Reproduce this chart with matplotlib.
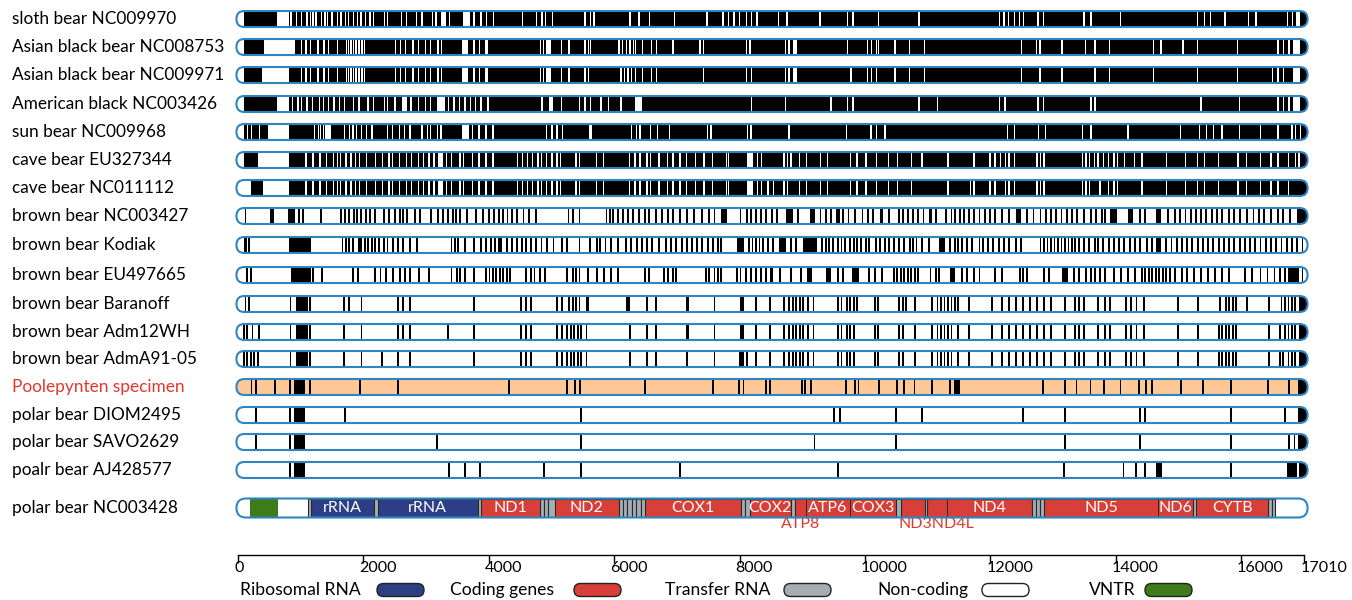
import matplotlib.pyplot as plt
from matplotlib.patches import FancyBboxPatch

SEQ_LEN = 17010

# ---- sequence rows (variable sites, bp) ----
row_names = ["sloth bear NC009970", "Asian black bear NC008753", "Asian black bear NC009971",
             "American black NC003426", "sun bear NC009968", "cave bear EU327344",
             "cave bear NC011112", "brown bear NC003427", "brown bear Kodiak",
             "brown bear EU497665", "brown bear Baranoff", "brown bear Adm12WH",
             "brown bear AdmA91-05", "Poolepynten specimen", "polar bear DIOM2495",
             "polar bear SAVO2629", "poalr bear AJ428577"]

# dark rows: white = sites shared with the reference
sloth_white = [844, 930, 1016, 1102, 1159, 1199, 1245, 1331, 1388, 1428, 1502, 1588, 1645, 1714, 1760,
               1845, 1903, 1960, 2034, 2103, 2160, 2332, 2389, 2606, 2686, 2846, 2932, 3104, 3161, 3373,
               3762, 3876, 3962, 4076, 4534, 4763, 4848, 4906, 5020, 5535, 5621, 5678, 6250, 6393, 6564,
               6965, 7480, 7737, 7823, 7909, 7994, 8109, 8195, 8280, 8624, 8757, 9283, 9721, 9809, 10218,
               10861, 12147, 12217, 12293, 12381, 12468, 12527, 12761, 12848, 13491, 13608, 14076, 15303,
               15420, 15508, 15742, 16122, 16239, 16735, 16823]
sloth_white_blocks = [(-30, 100), (616, 816), (3235, 3315), (3590, 3693), (16870, 16940)]

asian1_white = [1016, 1085, 1159, 1273, 1371, 1445, 1588, 1731, 1760, 1805, 1845, 1885, 1931, 1977, 2017,
                2515, 2589, 2675, 2789, 2875, 2989, 3075, 3190, 3247, 3762, 3847, 4820, 4877, 5163, 5278,
                5535, 5592, 5621, 6078, 6135, 6193, 6250, 6307, 6336, 6450, 6593, 6679, 6937, 7366, 7423,
                8109, 8166, 8728, 8786, 9721, 10043, 10101, 10189, 10218, 10481, 10715, 10949, 12498,
                12732, 12790, 13141, 13521, 13667, 13901, 14602, 14719, 15070, 15303, 15946, 16589,
                16677, 16765]
asian1_white_blocks = [(-30, 100), (415, 902), (3579, 3676), (3933, 3990), (4917, 4991), (8845, 8921),
                       (16823, 16940)]

asian2_white = [1016, 1085, 1159, 1273, 1371, 1445, 1588, 1731, 1760, 1805, 1845, 1885, 1931, 1977, 2017,
                2515, 2589, 2675, 2789, 2875, 2989, 3075, 3190, 3247, 3762, 3847, 4820, 4877, 5163, 5278,
                5535, 5592, 6107, 6164, 6221, 6278, 6336, 6450, 6593, 6679, 7423, 8109, 8195, 8728, 8786,
                9780, 10043, 10101, 10189, 10481, 10715, 10949, 12498, 12790, 13141, 13667, 13901, 14602,
                15303, 15946, 16501, 16589, 16677]
asian2_white_blocks = [(-30, 100), (387, 816), (3579, 3676), (3933, 3990), (4917, 4991), (8845, 8921),
                       (16823, 16940)]

american_white = [873, 959, 1016, 1102, 1188, 1302, 1359, 1445, 1531, 1617, 1702, 1845, 1931, 2074, 2160,
                  2332, 2389, 2503, 2761, 2875, 2989, 3075, 3361, 3447, 3533, 3619, 3704, 3790, 3876, 3990,
                  4848, 5163, 5449, 5535, 5621, 5792, 5907, 6107, 8195, 8728, 9458, 9721, 9809, 10861,
                  11153, 12147, 12235, 12761, 12848, 13608, 13667, 15362, 15976, 16589, 16677, 16765]
american_white_blocks = [(-30, 100), (616, 816), (2618, 2703), (3178, 3304), (4963, 5020), (6336, 6450),
                         (16823, 16940)]

sun_white = [148, 214, 341, 1224, 1280, 1318, 1362, 1694, 1776, 1832, 1887, 1970, 2052, 2135, 2384, 2466,
             2577, 2660, 2742, 2936, 3018, 3074, 3184, 3239, 3736, 3846, 3957, 4067, 4923, 5006, 5088,
             5171, 5613, 5640, 6275, 6358, 6413, 6579, 6689, 6882, 7490, 7545, 8124, 8180, 8790, 9709,
             10099, 10182, 10322, 12271, 12383, 12772, 12884, 13469, 13608, 14193, 15028, 15335, 15446,
             15557, 15697, 15975, 16309, 16588, 16811, 16866, 16950]
sun_white_blocks = [(-30, 90), (479, 810), (1390, 1484), (3570, 3681)]

caveEU_white = [1086, 1197, 1307, 1407, 1528, 1583, 1638, 1721, 1804, 1870, 1942, 2052, 2190, 2301, 2411,
                2466, 2577, 2687, 2770, 2880, 2963, 3046, 3129, 3322, 3405, 3543, 3598, 3736, 3846, 3957,
                4067, 4454, 4536, 4619, 4702, 4785, 4840, 4923, 5006, 5088, 5144, 5392, 5447, 5723, 5834,
                6248, 6330, 6413, 6524, 6579, 6717, 6855, 6938, 7048, 7158, 7296, 7434, 7572, 7793, 7821,
                8290, 8345, 8706, 8762, 8818, 8957, 9068, 9291, 9403, 9765, 9876, 10015, 10182, 10377,
                10517, 10739, 10907, 11324, 11742, 11993, 12076, 12160, 12243, 12299, 12383, 12745, 12800,
                12856, 13469, 13524, 13580, 13664, 13719, 13803, 13886, 13970, 14026, 14137, 14304, 14416,
                14806, 15112, 15307, 15418, 15641, 15947, 16087, 16309, 16477, 16588, 16755, 16866, 16922]
caveEU_white_blocks = [(-30, 90), (314, 810), (3184, 3267), (8124, 8207)]

caveNC_white = [1086, 1197, 1307, 1407, 1528, 1583, 1638, 1721, 1804, 1870, 1942, 2052, 2190, 2301, 2411,
                2466, 2577, 2687, 2770, 2880, 2963, 3046, 3129, 3322, 3405, 3543, 3598, 3736, 3846, 3957,
                4067, 4454, 4536, 4619, 4702, 4785, 4840, 4923, 5006, 5088, 5144, 5392, 5447, 5723, 5834,
                6248, 6330, 6413, 6524, 6579, 6717, 6855, 6938, 7048, 7158, 7296, 7434, 7572, 7793, 7821,
                8290, 8345, 8456, 8539, 8706, 8762, 8957, 9068, 9291, 9403, 9765, 9876, 10015, 10182,
                10377, 10517, 10739, 11324, 11687, 11742, 11993, 12076, 12243, 12299, 12383, 12745, 12800,
                12856, 13469, 13524, 13580, 13747, 13886, 13970, 14026, 14416, 14806, 15112, 15307, 15418,
                15641, 15947, 16087, 16309, 16477, 16588, 16755]
caveNC_white_blocks = [(-30, 200), (396, 810), (3184, 3267), (8124, 8207)]

# light rows: black = sites differing from the reference
brownNC_black = [120, 976, 1042, 1318, 1649, 1705, 1776, 1848, 1903, 1959, 2036, 2108, 2190, 2328, 2411,
                 2511, 2577, 2632, 2698, 2825, 2897, 3085, 3184, 3267, 3350, 3432, 3471, 3543, 3653, 3802,
                 3902, 4001, 4078, 4167, 4233, 4299, 4371, 4454, 4553, 4647, 4757, 5271, 5348, 5447, 5878,
                 5933, 5988, 6054, 6137, 6220, 6303, 6397, 6485, 6562, 6662, 6761, 6855, 6938, 7048, 7158,
                 7269, 7407, 7517, 7600, 8014, 8124, 8180, 8262, 8345, 8428, 8511, 8595, 8929, 9291, 9375,
                 9458, 9653, 9737, 9848, 9960, 10043, 10127, 10377, 10544, 10600, 10684, 10767, 10851,
                 10934, 11129, 11296, 11380, 11436, 11519, 11575, 11658, 11742, 11826, 11909, 11993,
                 12076, 12188, 12299, 12578, 12689, 12800, 12884, 12967, 13051, 13135, 13218, 13302,
                 13385, 13497, 13608, 13692, 13775, 13831, 14388, 14471, 14833, 14945, 15028, 15112,
                 15195, 15279, 15363, 15446, 15530, 15613, 15697, 15808, 15892, 15975, 16087, 16198,
                 16282, 16365, 16477, 16588, 16672, 16783]
brownNC_black_blocks = [(507, 579), (799, 910), (7710, 7793), (8734, 8846), (9124, 9208), (9542, 9598),
                        (10238, 10294), (11018, 11074), (12410, 12494), (13914, 14026), (14193, 14276),
                        (14638, 14722), (16894, 17080)]

kodiak_black = [176, 1666, 1721, 1776, 1832, 2025, 2080, 2135, 2190, 2246, 2328, 2384, 2466, 2549, 2632,
                2742, 2853, 3405, 3460, 3515, 3626, 3764, 3874, 3957, 4040, 4095, 4288, 4371, 4454, 4536,
                4592, 4674, 4757, 4840, 4923, 5033, 5171, 5254, 5447, 5613, 5723, 5778, 5861, 5944, 6054,
                6192, 6275, 6358, 6441, 6524, 6606, 6717, 6827, 6910, 6993, 7076, 7158, 7241, 7324, 7407,
                7490, 7572, 7655, 7710, 8152, 8207, 8262, 8318, 8373, 8456, 8539, 8818, 8901, 9319, 9375,
                9430, 9486, 9570, 9625, 9681, 9765, 9820, 9876, 9932, 10015, 10071, 10182, 10238, 10322,
                10377, 10461, 10544, 10628, 10712, 10767, 10823, 10907, 11018, 11352, 11436, 11491, 11547,
                11631, 11714, 11826, 11881, 11965, 12048, 12132, 12215, 12299, 12410, 12494, 12800, 12856,
                12912, 12967, 13023, 13079, 13135, 13190, 13246, 13302, 13357, 13413, 13497, 13580, 13664,
                13719, 13803, 13886, 13970, 14054, 14137, 14221, 14304, 14388, 14499, 14583, 14806, 14889,
                14973, 15056, 15140, 15223, 15307, 15390, 15474, 15557, 15641, 15725, 15808, 15892, 15975,
                16059, 16142, 16226, 16309, 16393, 16477, 16560, 16644, 16727, 16811, 16894, 16978]
kodiak_black_blocks = [(93, 148), (810, 1169), (1914, 1970), (4150, 4205), (7959, 8069), (8623, 8734),
                       (9013, 9236), (11185, 11269), (14638, 14722)]

eu497_black = [148, 203, 1197, 1335, 1832, 1914, 2190, 2273, 2356, 2466, 2577, 2660, 2742, 2880, 3046,
               3405, 3488, 3543, 3626, 3764, 3957, 4012, 4067, 4122, 4178, 4233, 4288, 4343, 4592, 4674,
               4730, 4812, 4895, 5254, 5337, 5392, 5447, 5585, 5723, 5834, 5944, 6054, 6496, 6551, 6800,
               6855, 6938, 6993, 7462, 7517, 7600, 7655, 7710, 7959, 8014, 8097, 8180, 8262, 8345, 8428,
               8651, 8818, 8985, 9570, 9653, 10071, 10155, 10266, 10461, 10517, 10572, 10628, 10684,
               10739, 10795, 10851, 11046, 11129, 11185, 11547, 11631, 11742, 11826, 12076, 12188, 12466,
               12522, 12578, 12856, 12940, 13330, 13413, 13524, 13608, 13664, 13747, 13831, 13970, 14081,
               14193, 14304, 14416, 14471, 14527, 14583, 14638, 14694, 14750, 14806, 14861, 14945, 15056,
               15140, 15251, 15363, 15474, 15585, 15697, 15808, 16059, 16170, 16309, 16421, 16532, 16616,
               16700, 16978]
eu497_black_blocks = [(838, 1169), (8484, 8539), (9068, 9152), (9375, 9458), (9793, 9904), (11352, 11436),
                      (13135, 13246), (16755, 16922)]

baranoff_black = [120, 176, 838, 1153, 1694, 1776, 1970, 2549, 2632, 2742, 3764, 4509, 4592, 4674, 5088,
                  5171, 5282, 5337, 5392, 5447, 5558, 5585, 6524, 6662, 7158, 7186, 7600, 8262, 8484, 8706,
                  8790, 8846, 8901, 8957, 9013, 9096, 9180, 9570, 9625, 9709, 9765, 9820, 9876, 10155,
                  10210, 10544, 10600, 10656, 10795, 11074, 11157, 11213, 11269, 11324, 11380, 11436,
                  11491, 11658, 12021, 12188, 12299, 12410, 12522, 12633, 12745, 12856, 12967, 13190,
                  13357, 13413, 13497, 13719, 13831, 13914, 14165, 14249, 14332, 14444, 15000, 15307,
                  15669, 15752, 15808, 15864, 15920, 16087, 16449, 16644, 16700, 16755, 16811, 16866]
baranoff_black_blocks = [(921, 1114), (6192, 6248), (8014, 8069), (16920, 17080)]

adm12_black = [93, 148, 231, 341, 838, 1153, 1694, 1970, 2549, 2632, 2742, 3350, 3764, 4509, 4592, 4674,
               5088, 5171, 5254, 5309, 5364, 5420, 5475, 5558, 6248, 6524, 6662, 7158, 7186, 7600, 8262,
               8484, 8706, 8790, 8846, 8901, 8957, 9013, 9096, 9180, 9570, 9625, 9709, 9765, 9820, 10155,
               10210, 10544, 10600, 10795, 11074, 11157, 11213, 11269, 11324, 11380, 11491, 11658,
               12021, 12188, 12299, 12410, 12522, 12633, 12745, 12856, 12967, 13190, 13357, 13413, 13497,
               13719, 13831, 13914, 14165, 14249, 14332, 14444, 15000, 15307, 15641, 15697, 15752, 15808,
               15864, 15920, 16449, 16616, 16700, 16755, 16811, 16866]
adm12_black_blocks = [(921, 1114), (8014, 8069), (16920, 17080)]

adma91_black = [93, 148, 203, 258, 314, 838, 1153, 1694, 1970, 2301, 2549, 2742, 3764, 4509, 4592, 4674,
                5088, 5171, 5254, 5309, 5364, 5420, 5475, 5558, 6248, 6524, 6662, 7158, 7600, 8124, 8262,
                8484, 8706, 8790, 8846, 8901, 8957, 9013, 9096, 9180, 9570, 9625, 9709, 9765, 9820, 10155,
                10210, 10544, 10600, 10795, 11074, 11157, 11213, 11269, 11324, 11380, 11491, 11658,
                12021, 12188, 12299, 12410, 12522, 12633, 12745, 12856, 12967, 13190, 13357, 13413, 13497,
                13719, 13831, 13914, 14165, 14249, 14332, 14444, 15000, 15307, 15641, 15697, 15752, 15808,
                15864, 15920, 16449, 16616, 16672, 16755, 16811, 16866]
adma91_black_blocks = [(921, 1114), (7987, 8069), (16920, 17080)]

poole_black = [215, 284, 587, 833, 1142, 1943, 2549, 4322, 5249, 5375, 5449, 6496, 7583, 7994, 8063, 8423,
               8481, 9002, 9049, 9137, 9692, 9838, 9897, 10218, 10510, 10627, 10791, 11066, 11358, 12837,
               13188, 13374, 13597, 13813, 14076, 14368, 14485, 14573, 15040, 15391, 15841, 16426, 16765]
poole_black_blocks = [(890, 1073), (11416, 11516), (16911, 17080)]

diom_black = [284, 833, 1702, 5466, 9505, 9604, 10499, 10908, 12527, 13188, 14380, 14473, 15841, 16706]
diom_black_blocks = [(890, 1073), (16900, 17080)]

savo_black = [284, 833, 3178, 5466, 9195, 10499, 13188, 14380, 15841, 16765, 16852]
savo_black_blocks = [(890, 1073), (16900, 17080)]

aj_black = [833, 3361, 3619, 3865, 4877, 5466, 7051, 9564, 13170, 14123, 14321, 14473, 15841]
aj_black_blocks = [(890, 1073), (14650, 14730), (16735, 16895), (16925, 17080)]

# ---- reference annotation (polar bear NC003428) ----
vntr = (191, 640)
gene_names = ["rRNA", "rRNA", "ND1", "ND2", "COX1", "COX2", "ATP8", "ATP6", "COX3", "ND3", "ND4L",
              "ND4", "ND5", "ND6", "CYTB"]
gene_start = [1165, 2230, 3874, 5053, 6488, 8161, 8879, 9054, 9755, 10568, 10983, 11302, 12848, 14681, 15287]
gene_end = [2168, 3826, 4814, 6073, 8018, 8815, 9054, 9755, 10488, 10951, 11302, 12672, 14681, 15239, 16435]
trna = [(1116, 1165), (2168, 2230), (3826, 3874), (4814, 4880), (4880, 4950), (4950, 5053),
        (6073, 6140), (6140, 6210), (6210, 6280), (6280, 6350), (6350, 6420), (6420, 6488),
        (8018, 8090), (8090, 8161), (8815, 8879), (10488, 10568), (10951, 10983), (12672, 12730),
        (12730, 12790), (12790, 12848), (15239, 15287), (16435, 16490), (16490, 16546)]

ticks = [0, 2000, 4000, 6000, 8000, 10000, 12000, 14000, 16000, 17010]

# ---- style ----
BLUE = "#2e86c1"
ORANGE = "#fdc796"
C_RRNA = "#2c3e86"
C_CODE = "#d83f38"
C_TRNA = "#a3adb2"
C_VNTR = "#3f7b1b"
RED_TXT = "#e2382c"
FONT = "Lato"

BP_PX = 15.95                      # bp per pixel
X0 = -238 * BP_PX                  # left edge of figure in bp


def px(x):
    return X0 + x * BP_PX


fig = plt.figure(figsize=(13.52, 6), dpi=100)
ax = fig.add_axes([0, 0, 1, 1])
ax.set_xlim(X0, X0 + 1352 * BP_PX)
ax.set_ylim(600, 0)
ax.axis("off")


def pill(x0, x1, y, h, face, edge, lw, z=2):
    p = FancyBboxPatch((x0, y - h / 2), x1 - x0, h,
                       boxstyle=f"round,pad=0,rounding_size={h / 2 * BP_PX}",
                       mutation_aspect=1 / BP_PX, fc=face, ec=edge, lw=lw, zorder=z)
    ax.add_patch(p)
    return p


def track(y, h, face, lines, blocks, mark_color, mark_w):
    body = pill(-25, SEQ_LEN + 50, y, h, face, "none", 0, 2)
    segs = [(p - mark_w / 2, mark_w) for p in lines] + [(a, b - a) for a, b in blocks]
    coll = ax.broken_barh(segs, (y - h / 2, h), facecolors=mark_color, edgecolors="none", zorder=3)
    coll.set_clip_path(body)
    pill(-25, SEQ_LEN + 50, y, h, "none", BLUE, 1.5, 5)


row_y = [19, 47, 75, 104, 132, 160, 188, 216, 245, 275, 304, 332, 359, 387, 415, 442, 470]
BAR_H = 16

dark_rows = [(sloth_white, sloth_white_blocks), (asian1_white, asian1_white_blocks),
             (asian2_white, asian2_white_blocks), (american_white, american_white_blocks),
             (sun_white, sun_white_blocks), (caveEU_white, caveEU_white_blocks),
             (caveNC_white, caveNC_white_blocks)]
light_rows = [(brownNC_black, brownNC_black_blocks), (kodiak_black, kodiak_black_blocks),
              (eu497_black, eu497_black_blocks), (baranoff_black, baranoff_black_blocks),
              (adm12_black, adm12_black_blocks), (adma91_black, adma91_black_blocks),
              (poole_black, poole_black_blocks), (diom_black, diom_black_blocks),
              (savo_black, savo_black_blocks), (aj_black, aj_black_blocks)]

for i, (lines, blocks) in enumerate(dark_rows):
    track(row_y[i], BAR_H, "black", lines, blocks, "white", 22)
for j, (lines, blocks) in enumerate(light_rows):
    i = j + len(dark_rows)
    face = ORANGE if row_names[i].startswith("Poolepynten") else "white"
    track(row_y[i], BAR_H, face, lines, blocks, "black", 30)

for name, y in zip(row_names, row_y):
    ax.text(px(12), y, name, ha="left", va="center", fontsize=12.4, family=FONT,
            color=RED_TXT if name.startswith("Poolepynten") else "black")

# ---- annotation row ----
ANN_Y, ANN_H = 508, 19
body = pill(-25, SEQ_LEN + 50, ANN_Y, ANN_H, "white", "none", 0, 2)
cols = [C_RRNA if n == "rRNA" else C_CODE for n in gene_names]
g = ax.broken_barh([(s, e - s) for s, e in zip(gene_start, gene_end)], (ANN_Y - ANN_H / 2, ANN_H),
                   facecolors=cols, edgecolors="#2a2a2a", linewidth=0.7, zorder=3)
g.set_clip_path(body)
t = ax.broken_barh([(s, e - s) for s, e in trna], (ANN_Y - ANN_H / 2, ANN_H),
                   facecolors=C_TRNA, edgecolors="#2a2a2a", linewidth=0.8, zorder=3)
t.set_clip_path(body)
v = ax.broken_barh([(vntr[0], vntr[1] - vntr[0])], (ANN_Y - ANN_H / 2, ANN_H),
                   facecolors=C_VNTR, edgecolors="none", zorder=3)
v.set_clip_path(body)
pill(-25, SEQ_LEN + 50, ANN_Y, ANN_H, "none", BLUE, 1.5, 5)

below = {"ATP8", "ND3", "ND4L"}
for n, s, e in zip(gene_names, gene_start, gene_end):
    if n not in below:
        ax.text((s + e) / 2, ANN_Y, n, ha="center", va="center", color="white",
                fontsize=11.5, family=FONT, zorder=6)
i8 = gene_names.index("ATP8")
ax.text((gene_start[i8] + gene_end[i8]) / 2, 524, "ATP8", ha="center", va="center",
        color=RED_TXT, fontsize=11.5, family=FONT)
i3 = gene_names.index("ND3")
ax.text(gene_start[i3] - 40, 524, "ND3ND4L", ha="left", va="center",
        color=RED_TXT, fontsize=11.5, family=FONT)

ax.text(px(12), ANN_Y, "polar bear NC003428", ha="left", va="center", fontsize=12.4, family=FONT)

# ---- axis ----
ax.plot([0, SEQ_LEN], [555, 555], color="black", lw=1)
ax.vlines(ticks, 555, 563, color="black", lw=1)
for tk in ticks:
    ax.text(tk - 4 * BP_PX, 567.5, str(tk), ha="left", va="center", fontsize=11.6, family=FONT)

# ---- legend ----
legend_items = [("Ribosomal RNA", C_RRNA), ("Coding genes", C_CODE), ("Transfer RNA", C_TRNA),
                ("Non-coding", "white"), ("VNTR", C_VNTR)]
legend_text_x = [240, 450, 665, 877, 1089]
legend_pill_x = [377, 574, 784, 982, 1145]
for (lab, c), tx, pxx in zip(legend_items, legend_text_x, legend_pill_x):
    ax.text(px(tx), 590, lab, ha="left", va="center", fontsize=12.6, family=FONT)
    pill(px(pxx), px(pxx + 47), 590, 13, c, "#222222", 1.0, 4)

fig.savefig("out.png", dpi=100)
